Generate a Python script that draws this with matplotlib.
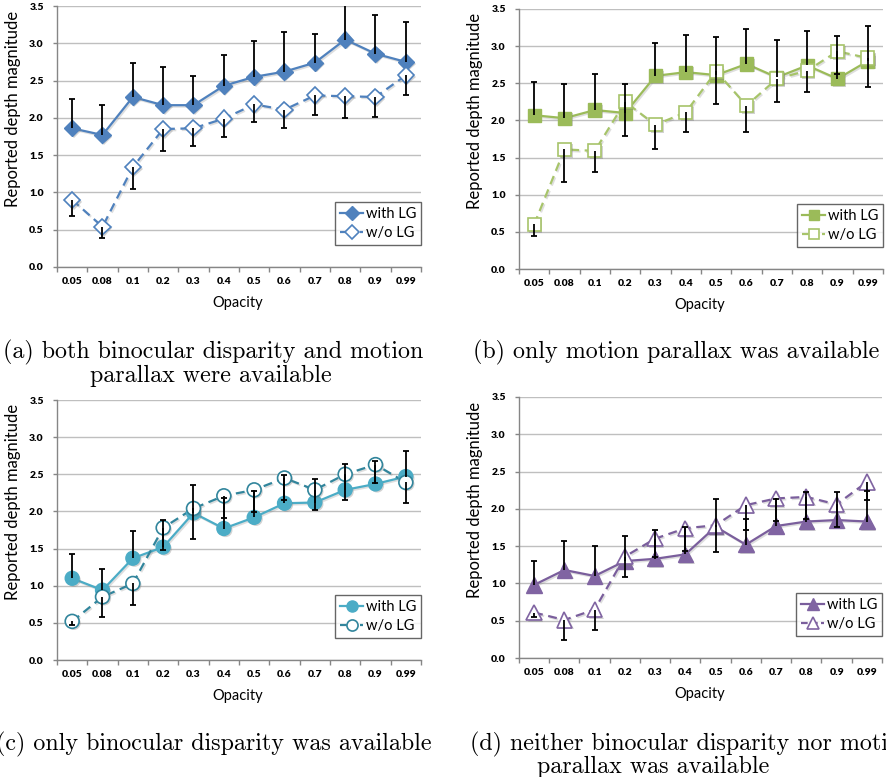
import matplotlib
matplotlib.use("Agg")
import matplotlib.pyplot as plt
import matplotlib.patheffects as pe
from matplotlib.lines import Line2D
import numpy as np

# Opacity levels (categorical x axis)
opacity = ['0.05', '0.08', '0.1', '0.2', '0.3', '0.4', '0.5', '0.6', '0.7', '0.8', '0.9', '0.99']
y_ticks = [0.0, 0.5, 1.0, 1.5, 2.0, 2.5, 3.0, 3.5]

# (a) binocular disparity + motion parallax
a_with = [1.86, 1.77, 2.28, 2.17, 2.17, 2.43, 2.55, 2.62, 2.74, 3.05, 2.86, 2.75]
a_with_err = [0.39, 0.40, 0.46, 0.51, 0.39, 0.41, 0.48, 0.53, 0.39, 0.47, 0.52, 0.54]
a_without = [0.90, 0.54, 1.34, 1.85, 1.86, 1.99, 2.18, 2.11, 2.30, 2.29, 2.28, 2.57]
a_without_err = [0.21, 0.15, 0.29, 0.29, 0.24, 0.24, 0.24, 0.24, 0.26, 0.29, 0.27, 0.27]

# (b) motion parallax only
b_with = [2.07, 2.03, 2.14, 2.10, 2.60, 2.65, 2.61, 2.76, 2.58, 2.74, 2.56, 2.80]
b_with_err = [0.45, 0.46, 0.48, 0.39, 0.44, 0.50, 0.51, 0.47, 0.50, 0.47, 0.57, 0.47]
b_without = [0.60, 1.61, 1.59, 2.25, 1.94, 2.11, 2.66, 2.20, 2.56, 2.67, 2.93, 2.84]
b_without_err = [0.15, 0.44, 0.28, 0.46, 0.33, 0.27, 0.44, 0.36, 0.31, 0.29, 0.30, 0.39]

# (c) binocular disparity only
c_with = [1.10, 0.94, 1.37, 1.52, 1.98, 1.77, 1.92, 2.11, 2.12, 2.29, 2.37, 2.47]
c_with_err = [0.33, 0.29, 0.36, 0.37, 0.38, 0.41, 0.36, 0.38, 0.31, 0.35, 0.31, 0.34]
c_without = [0.52, 0.85, 1.03, 1.78, 2.04, 2.21, 2.29, 2.45, 2.29, 2.50, 2.63, 2.39]
c_without_err = [0.05, 0.27, 0.29, 0.30, 0.41, 0.30, 0.30, 0.30, 0.27, 0.34, 0.25, 0.27]

# (d) neither cue
d_with = [0.98, 1.18, 1.10, 1.30, 1.33, 1.39, 1.76, 1.52, 1.77, 1.83, 1.85, 1.83]
d_with_err = [0.32, 0.39, 0.40, 0.34, 0.38, 0.37, 0.37, 0.35, 0.36, 0.39, 0.37, 0.41]
d_without = [0.61, 0.51, 0.65, 1.36, 1.60, 1.74, 1.78, 2.05, 2.14, 2.16, 2.06, 2.36]
d_without_err = [0.06, 0.27, 0.28, 0.28, 0.25, 0.30, 0.36, 0.34, 0.30, 0.30, 0.30, 0.24]

series_labels = ['with LG', 'w/o LG']

W, H = 887, 777
fig = plt.figure(figsize=(W / 100, H / 100), dpi=100)

SANS = 'Lato'
SERIF = 'cmr10'


def px_axes(left, top, right, bottom):
    return [left / W, 1 - bottom / H, (right - left) / W, (bottom - top) / H]


panels = [
    dict(rect=px_axes(57, 6, 421, 267), w=a_with, we=a_with_err, o=a_without, oe=a_without_err,
         marker='D', ms=8.3, c_with='#4F81BD', c_line='#4F81BD', c_edge='#4F81BD', c_dash='#4F81BD'),
    dict(rect=px_axes(519, 9, 883, 269), w=b_with, we=b_with_err, o=b_without, oe=b_without_err,
         marker='s', ms=9.5, c_with='#9BBB59', c_line='#9BBB59', c_edge='#A7C46A', c_dash='#A7C46A'),
    dict(rect=px_axes(57, 400, 421, 660), w=c_with, we=c_with_err, o=c_without, oe=c_without_err,
         marker='o', ms=10.0, c_with='#4BACC6', c_line='#4BACC6', c_edge='#31859C', c_dash='#31859C'),
    dict(rect=px_axes(519, 397, 882, 658), w=d_with, we=d_with_err, o=d_without, oe=d_without_err,
         marker='^', ms=11.0, c_with='#8064A2', c_line='#7A5E9C', c_edge='#8064A2', c_dash='#7A5E9C'),
]

shadow = [pe.SimplePatchShadow(offset=(1.2, -1.2), shadow_rgbFace='#7f7f7f', alpha=0.35), pe.Normal()]
line_shadow = [pe.SimpleLineShadow(offset=(1.0, -1.0), shadow_color='#7f7f7f', alpha=0.25), pe.Normal()]

x = np.arange(len(opacity)) + 0.5

for p in panels:
    ax = fig.add_axes(p['rect'])
    ax.set_xlim(0, len(opacity))
    ax.set_ylim(0, 3.5)

    # grid
    ax.set_yticks(y_ticks)
    ax.set_yticklabels([f'{v:.1f}' for v in y_ticks])
    ax.yaxis.grid(True, color='#BFBFBF', linewidth=1.0)
    ax.set_axisbelow(True)

    for s in ['top', 'right']:
        ax.spines[s].set_visible(False)
    for s in ['left', 'bottom']:
        ax.spines[s].set_color('#868686')
        ax.spines[s].set_linewidth(1.0)

    ax.set_xticks(np.arange(len(opacity) + 1))
    ax.set_xticklabels([])
    ax.set_xticks(x, minor=True)
    ax.set_xticklabels(opacity, minor=True)
    ax.tick_params(axis='x', which='major', length=3.5, color='#868686', width=1.0, direction='out')
    ax.tick_params(axis='x', which='minor', length=0, pad=7.5)
    ax.tick_params(axis='y', length=3.0, color='#868686', width=1.0, direction='out', pad=6.5)
    for lab in ax.get_xticklabels(minor=True) + ax.get_yticklabels():
        lab.set_fontfamily(SANS)
        lab.set_fontweight('heavy')
        lab.set_fontsize(7.5)

    w = np.array(p['w'])
    we = np.array(p['we'])
    o = np.array(p['o'])
    oe = np.array(p['oe'])

    # connecting lines
    ax.plot(x, w, color=p['c_line'], lw=1.6, zorder=3, path_effects=line_shadow)
    ax.plot(x, o, color=p['c_dash'], lw=1.6, ls=(0, (4, 2.5)), zorder=3, path_effects=line_shadow)

    # markers
    ax.plot(x, w, ls='none', marker=p['marker'], ms=p['ms'], mfc=p['c_with'], mec=p['c_with'],
            mew=1.0, zorder=4, path_effects=shadow)
    ax.plot(x, o, ls='none', marker=p['marker'], ms=p['ms'], mfc='white', mec=p['c_edge'],
            mew=1.2, zorder=4, path_effects=shadow)

    # one-sided error bars: plus for "with LG", minus for "w/o LG"
    ax.vlines(x, w, w + we, color='black', lw=1.3, zorder=5)
    ax.plot(x, w + we, ls='none', marker='_', ms=4.5, mew=1.3, color='black', zorder=5)
    ax.vlines(x, o - oe, o, color='black', lw=1.3, zorder=5)
    ax.plot(x, o - oe, ls='none', marker='_', ms=4.5, mew=1.3, color='black', zorder=5)

    ax.set_ylabel('Reported depth magnitude', fontfamily=SANS, fontsize=12)
    ax.yaxis.set_label_coords(-0.100, 0.607)
    ax.text(0.497, -0.138, 'Opacity', transform=ax.transAxes, ha='center', va='center',
            fontfamily=SANS, fontsize=10.5)

    handles = [
        Line2D([], [], color=p['c_line'], lw=1.6, marker=p['marker'], ms=p['ms'] * 0.8,
               mfc=p['c_with'], mec=p['c_with']),
        Line2D([], [], color=p['c_dash'], lw=1.6, ls=(0, (3, 1.5)), marker=p['marker'],
               ms=p['ms'] * 0.8, mfc='white', mec=p['c_edge'], mew=1.2),
    ]
    leg = ax.legend(handles, series_labels, loc='lower right', bbox_to_anchor=(1.0, 0.083),
                    borderaxespad=0, frameon=True, fancybox=False, edgecolor='#404040',
                    prop={'family': SANS, 'size': 10.5}, handlelength=1.6, handletextpad=0.15,
                    labelspacing=0.35, borderpad=0.35, markerscale=1.0)
    leg.get_frame().set_linewidth(1.0)
    leg.set_zorder(10)


def ftext(xp, yp, s, ha='center'):
    fig.text(xp / W, 1 - yp / H, s, ha=ha, va='center', fontfamily=SERIF, fontsize=17.3)


ftext(213, 352, '(a) both binocular disparity and motion')
ftext(211, 376, 'parallax were available')
ftext(676, 352, '(b) only motion parallax was available')
ftext(214, 744, '(c) only binocular disparity was available')
ftext(470, 744, '(d) neither binocular disparity nor motion', ha='left')
ftext(653, 767, 'parallax was available')

fig.savefig('out.png', dpi=100)
